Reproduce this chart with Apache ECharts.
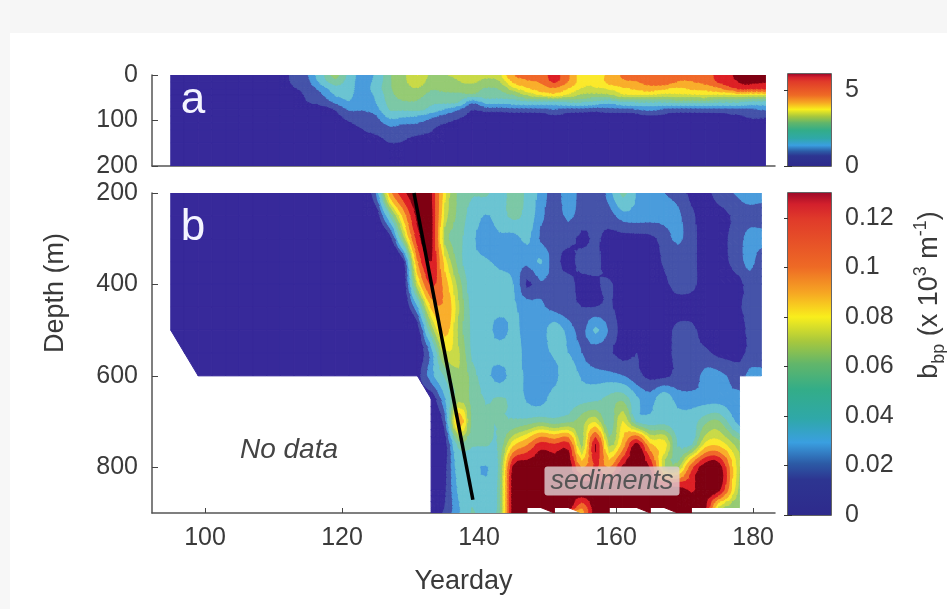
<!DOCTYPE html>
<html><head><meta charset="utf-8">
<style>html,body{margin:0;padding:0;background:#fff}#c{width:947px;height:609px;filter:blur(.55px)}</style>
<script src="https://cdn.jsdelivr.net/npm/echarts@6/dist/echarts.min.js"></script>
</head><body><div id="c"></div>
<script>
// --- axes / ticks
const xTicks=[100,120,140,160,180];
const yTicksA=[0,100,200];
const yTicksB=[200,400,600,800];
const days=[95,97,99,101,103,105,107,109,111,113,115,117,119,121,123,125,127,129,131,133,135,137,139,141,143,145,147,149,151,153,155,157,159,161,163,165,167,169,171,173,175,178,179.5,181.2];
const daysA=[95,97,99,101,103,105,107,109,111,113,115,117,119,121,123,125,127,129,131,133,135,137,139,141,143,145,147,149,151,153,155,157,159,161,163,165,167,169,171,173,175,178,179.5,181.8];
const depthsA=[0,15,30,45,60,75,90,105,120,150,200];
const depthsB=[200,250,300,350,400,450,500,550,600,650,700,750,800,850,888,900];
// --- panel a: scale 0-6, one profile per day (column)
const valuesA=[
[.2,.2,.2,.2,.2,.2,.2,.2,.2,.2,.2],[.2,.2,.2,.2,.2,.2,.2,.2,.2,.2,.2],[.2,.2,.2,.2,.2,.2,.2,.2,.2,.2,.2],
[.2,.2,.2,.2,.2,.2,.2,.2,.2,.2,.2],[.2,.2,.2,.2,.2,.2,.2,.2,.2,.2,.2],[.2,.2,.2,.2,.2,.2,.2,.2,.2,.2,.2],
[.2,.2,.2,.2,.2,.2,.2,.2,.2,.2,.2],[.2,.2,.2,.2,.2,.2,.2,.2,.2,.2,.2],[.3,.2,.2,.2,.2,.2,.2,.2,.2,.2,.2],
[.7,.7,.5,.2,.2,.2,.2,.2,.2,.2,.2],
[1.0,.9,.8,.7,.56,.3,.2,.2,.2,.2,.2],
[1.9,1.7,1.2,.95,.7,.4,.2,.2,.2,.2,.2],
[2.7,2.4,1.8,1.5,1.1,.6,.4,.2,.2,.2,.2],
[1.9,1.8,1.7,1.6,1.45,1.1,.8,.5,.3,.2,.2],
[1.2,1.2,1.2,1.2,1.15,1.05,.9,.75,.55,.3,.2],
[1.6,1.7,1.8,1.6,1.5,1.3,1.0,.85,.7,.3,.2],
[2.5,2.5,2.5,2.4,2.3,2.15,1.7,1.2,.9,.55,.2],
[2.9,2.9,2.8,2.7,2.5,2.2,1.6,1.1,.8,.5,.2],
[3.45,3.3,3.0,2.7,2.5,2.3,1.5,1.05,.75,.3,.2],
[2.9,2.8,2.6,2.4,2.2,1.9,1.2,.8,.6,.3,.2],
[3.0,2.8,2.7,2.4,2.2,1.5,.9,.6,.3,.2,.2],
[3.1,3.0,2.8,2.4,2.1,1.1,.7,.4,.2,.2,.2],
[3.2,3.1,2.8,2.4,1.1,.6,.4,.2,.2,.2,.2],
[3.1,2.9,2.5,2.3,1.7,.8,.3,.2,.2,.2,.2],
[3.3,3.0,2.6,2.3,1.7,.8,.3,.2,.2,.2,.2],
[4.5,4.0,3.3,2.5,1.8,.9,.3,.2,.2,.2,.2],
[4.7,4.4,3.8,3.0,1.9,.9,.3,.2,.2,.2,.2],
[4.8,4.6,4.2,3.4,1.9,.95,.35,.2,.2,.2,.2],
[5.3,5.2,4.4,3.6,1.9,1.05,.5,.2,.2,.2,.2],
[4.6,4.5,3.9,3.3,2.1,.9,.4,.2,.2,.2,.2],
[3.6,3.6,3.4,2.9,2.1,.9,.3,.2,.2,.2,.2],
[3.5,3.5,3.4,2.8,1.9,.8,.3,.2,.2,.2,.2],
[4.1,4.1,3.5,2.9,1.7,.9,.35,.2,.2,.2,.2],
[4.6,4.4,3.8,3.3,2.0,.95,.35,.2,.2,.2,.2],
[4.7,4.5,4.0,3.4,2.1,1.05,.4,.2,.2,.2,.2],
[4.9,4.8,4.2,3.35,2.1,1.2,.55,.2,.2,.2,.2],
[5.1,4.9,4.0,3.2,2.1,1.0,.45,.2,.2,.2,.2],
[4.6,4.5,3.8,3.3,2.2,.9,.35,.2,.2,.2,.2],
[4.6,4.5,4.0,3.3,2.2,.9,.35,.2,.2,.2,.2],
[4.8,4.7,4.1,3.4,2.2,.95,.35,.2,.2,.2,.2],
[5.3,5.2,4.4,3.3,2.1,.95,.4,.2,.2,.2,.2],
[5.8,5.7,5.2,3.4,2.1,1.0,.5,.2,.2,.2,.2],
[5.9,5.8,5.2,3.3,1.9,1.0,.7,.3,.2,.2,.2],
[5.9,5.7,5.2,3.3,1.9,1.1,.7,.3,.2,.2,.2]
];
// --- panel b: bbp x 1000, one row per depth, one value per day
const _=null;
const valuesB=[
[3,3,3,3,3,3,3,3,3,3, 3,3,3,3,5,22,90,118,130,122, 76,52,46,47,38,50,42,28,17,27, 18,16,26,48,30,26,22,19,9,9, 16,24,27,27],
[3,3,3,3,3,3,3,3,3,3, 3,3,3,3,3,4,45,88,125,125, 70,52,40,31,38,48,40,25,16,24, 17,15,17,27,27,26,25,24,14,8, 8,15,18,16],
[3,3,3,3,3,3,3,3,3,3, 3,3,3,3,3,3,6,60,115,125, 62,50,34,27,30,27,34,20,16,15, 10,13,9,8,8,9,16,24,15,8, 8,18,26,26],
[3,3,3,3,3,3,3,3,3,3, 3,3,3,3,3,3,3,7,95,122, 78,50,36,33,30,28,25,33,16,9, 15,14,8,7,7,7,13,15,14,8, 8,17,26,14],
[3,3,3,3,3,3,3,3,3,3, 3,3,3,3,3,3,3,3,70,112, 90,60,38,37,36,32,10,20,16,15, 9,11,13,8,7,7,10,15,14,8, 7,10,15,15],
[3,3,3,3,3,3,3,3,3,3, 3,3,3,3,3,3,3,3,30,85, 95,66,40,37,36,33,28,24,18,15, 12,12,13,8,7,7,8,8,8,8, 8,11,15,15],
[3,3,3,3,3,3,3,3,3,3, 3,3,3,3,3,3,3,3,5,55, 88,62,42,37,27,34,28,26,38,28, 18,34,20,8,7,8,8,14,14,8, 8,8,14,14],
[_,3,3,3,3,3,3,3,3,3, 3,3,3,3,3,3,3,3,4,25, 70,66,42,37,38,38,28,26,34,32, 22,15,13,9,12,8,9,14,14,14, 9,9,14,15],
[_,_,3,3,3,3,3,3,3,3, 3,3,3,3,3,3,3,3,8,28, 46,64,50,36,27,36,30,27,28,40, 30,27,25,22,15,9,9,15,15,25, 25,17,25,25],
[_,_,_,_,_,_,_,_,_,_, _,_,_,_,_,_,_,_,_,5, 30,60,52,44,46,42,30,27,38,40, 40,42,48,52,34,27,40,27,26,26, 26,24,_,_],
[_,_,_,_,_,_,_,_,_,_, _,_,_,_,_,_,_,_,_,3, 16,92,50,46,45,46,48,52,48,52, 60,72,46,74,42,38,40,38,38,52, 56,26,_,_],
[_,_,_,_,_,_,_,_,_,_, _,_,_,_,_,_,_,_,_,3, 6,48,46,46,46,80,95,115,110,115, 60,122,62,88,126,85,80,44,42,76, 80,60,_,_],
[_,_,_,_,_,_,_,_,_,_, _,_,_,_,_,_,_,_,_,3, 8,38,36,31,48,125,130,130,130,130, 95,112,95,125,130,120,65,60,105,130, 130,65,_,_],
[_,_,_,_,_,_,_,_,_,_, _,_,_,_,_,_,_,_,_,3, 10,34,44,36,50,130,130,130,130,130, 130,130,130,130,130,130,130,130,120,130, 125,60,_,_],
[_,_,_,_,_,_,_,_,_,_, _,_,_,_,_,_,_,_,_,3, 12,30,45,36,50,130,130,130,130,130, 100,130,130,130,130,130,130,130,130,125, 70,55,_,_],
[_,_,_,_,_,_,_,_,_,_, _,_,_,_,_,_,_,_,_,3, 14,30,46,38,52,130,130,_,130,_, 90,130,130,_,_,130,_,130,130,_, _,_,_,_]
];
// --- sinking line
const lineDays=[130.5,139.1];
const lineDepths=[200,871];
// --- contour bands
const bandEdges=[-999,12,22,32,45,55,65,74,84,97,110,122,999];
const bandColors=['#37299a','#4553a9','#4a9cdc','#6bc4d2','#7cc8a6','#96cb74','#c9da48','#fbe92c','#f9ae2c','#f0692a','#dd2026','#7f0012'];
// --- colourbar
const barStops=[[0,'#2e2a8c'],[.11,'#2d3591'],[.16,'#2c5ba6'],[.225,'#3a9fe0'],[.3,'#2fa8a8'],[.39,'#33ad88'],[.47,'#62b66a'],[.54,'#a8c83d'],[.615,'#f9ee1c'],[.69,'#f6a623'],[.77,'#ee6a25'],[.92,'#e03a2a'],[.965,'#d3202c'],[1,'#a00a28']];
const barTopA=6.05, barTopB=.13;
const ticksA=[0,5], ticksB=[0,.02,.04,.06,.08,.1,.12];

const aToB=130/barTopA;
function clip(poly,lo,hi){
  function cut(p,keep,edge){const o=[];for(let i=0;i<p.length;i++){const a=p[i],b=p[(i+1)%p.length],ka=keep(a[2]),kb=keep(b[2]);
    if(ka)o.push(a);
    if(ka!==kb){const t=(edge-a[2])/(b[2]-a[2]);o.push([a[0]+t*(b[0]-a[0]),a[1]+t*(b[1]-a[1]),edge]);}}return o;}
  let p=cut(poly,v=>v>=lo,lo); if(p.length<3)return p;
  return cut(p,v=>v<=hi,hi);
}
const cr=(p0,p1,p2,p3,t)=>.5*(2*p1+(p2-p0)*t+(2*p0-5*p1+4*p2-p3)*t*t+(3*p1-p0-3*p2+p3)*t*t*t);
const bandOf=v=>{for(let c=0;c<bandColors.length;c++)if(v<bandEdges[c+1])return c;return bandColors.length-1;};
// filled contours over a value grid, the way a contourf plot does it
function field(xs,ys,val,scale,K){
  const nx=xs.length,ny=ys.length;
  const grid=[];
  for(let i=0;i<nx;i++){grid.push([]);for(let j=0;j<ny;j++){
    let v=val(i,j);
    if(v==null){ // value under the no-data mask: take the closest measured node
      outer:for(let r=1;r<Math.max(nx,ny);r++){for(const [a,b] of [[i+r,j],[i-r,j],[i,j-r],[i,j+r]]){
        if(a>=0&&a<nx&&b>=0&&b<ny&&val(a,b)!=null){v=val(a,b);break outer;}}}
    }
    grid[i].push(v*scale);
  }}
  const G=(i,j)=>grid[Math.max(0,Math.min(nx-1,i))][Math.max(0,Math.min(ny-1,j))];
  function at(i,j,u,v){
    const c=[];for(let a=-1;a<=2;a++)c.push(cr(G(i+a,j-1),G(i+a,j),G(i+a,j+1),G(i+a,j+2),v));
    return cr(c[0],c[1],c[2],c[3],u);
  }
  const data=[];
  for(let i=0;i<nx-1;i++)for(let j=0;j<ny-1;j++)data.push([xs[i],ys[j],i,j]);
  return {data,renderItem(params,api){
    const i=api.value(2),j=api.value(3);
    const ok=(a,b)=>val(a,b)!=null;
    const upper=ok(i,j)&&ok(i+1,j)&&ok(i+1,j+1), lower=ok(i,j)&&ok(i+1,j+1)&&ok(i,j+1);
    const children=[];
    if(!upper&&!lower)return {type:'group',children};
    const N=(a,b)=>{const u=a/K,v=b/K;return [xs[i]+u*(xs[i+1]-xs[i]),ys[j]+v*(ys[j+1]-ys[j]),at(i,j,u,v)];};
    const emit=(t,c)=>children.push({type:'polygon',shape:{points:t.map(n=>api.coord([n[0],n[1]]))},
      style:{fill:bandColors[c],stroke:bandColors[c],lineWidth:1}});
    // single-band cell: one shape is enough
    let first=bandOf(N(0,0)[2]),same=true;
    for(let a=0;a<=K&&same;a++)for(let b=0;b<=K;b++)if(bandOf(N(a,b)[2])!==first){same=false;break;}
    if(same){
      const c0=N(0,0),c1=N(K,0),c2=N(K,K),c3=N(0,K);
      if(upper&&lower)emit([c0,c1,c2,c3],first);
      else if(upper)emit([c0,c1,c2],first);
      else emit([c0,c2,c3],first);
      return {type:'group',children};
    }
    for(let a=0;a<K;a++)for(let b=0;b<K;b++){
      const q0=N(a,b),q1=N(a+1,b),q2=N(a+1,b+1),q3=N(a,b+1);
      const list=[];
      if(a>b){if(upper)list.push([q0,q1,q2],[q0,q2,q3]);}
      else if(a<b){if(lower)list.push([q0,q1,q2],[q0,q2,q3]);}
      else{if(upper)list.push([q0,q1,q2]);if(lower)list.push([q0,q2,q3]);}
      for(const t of list)for(let c=0;c<bandColors.length;c++){
        const p=clip(t,bandEdges[c],bandEdges[c+1]);
        if(p.length>=3)emit(p,c);
      }
    }
    return {type:'group',children};
  }};
}
const fa=field(daysA,depthsA,(a,b)=>valuesA[a][b],aToB,3);
const fb=field(days,depthsB,(a,b)=>valuesB[b][a],1,3);

const ink='#3a3a3a', F='"Liberation Sans",Arial,sans-serif';
const xMin=92.26,xMax=183.2;
function xAxis(grid,labels){return {type:'value',gridIndex:grid,min:xMin,max:xMax,
  axisLine:{show:true,onZero:false,lineStyle:{color:'#555',width:1.5}},
  axisTick:{show:true,inside:true,length:5,customValues:xTicks,lineStyle:{color:'#444',width:1}},
  splitLine:{show:false},
  axisLabel:{show:labels,customValues:xTicks,color:ink,fontSize:25,fontFamily:F,margin:13},
  ...(labels?{name:'Yearday',nameLocation:'middle',nameGap:55,nameTextStyle:{color:ink,fontSize:27,fontFamily:F}}:{})};}
function yAxis(grid,min,max,ticks){return {type:'value',gridIndex:grid,min,max,inverse:true,
  axisLine:{show:true,onZero:false,lineStyle:{color:'#555',width:1.5}},
  axisTick:{show:true,inside:true,length:6,customValues:ticks,lineStyle:{color:'#444',width:1}},
  splitLine:{show:false},
  axisLabel:{customValues:ticks,color:ink,fontSize:25,fontFamily:F,margin:14}};}
function barX(g){return {type:'value',gridIndex:g,min:0,max:1,show:false};}
function barY(g,top,ticks,side){const lab=side==='right';return {type:'value',gridIndex:g,min:0,max:top,position:side,
  axisLine:{show:false},splitLine:{show:false},
  axisTick:{show:true,inside:true,length:4,customValues:ticks,lineStyle:{color:'#333',width:1}},
  axisLabel:{show:lab,customValues:ticks,color:ink,fontSize:25,fontFamily:F,margin:14,formatter:v=>String(+(+v).toFixed(2))}};}
function barSeries(xi,yi,top){return {type:'custom',xAxisIndex:xi,yAxisIndex:yi,silent:true,data:[[0,top]],encode:{x:0,y:1},clip:false,
  renderItem(p,api){const a=api.coord([0,0]),b=api.coord([1,top]);
    return {type:'rect',shape:{x:a[0],y:b[1],width:b[0]-a[0],height:a[1]-b[1]},
      style:{fill:new echarts.graphic.LinearGradient(0,1,0,0,barStops.map(s=>({offset:s[0],color:s[1]})))}};}};}

const chart=echarts.init(document.getElementById('c'),null,{renderer:'canvas'});
chart.setOption({
  animation:false,backgroundColor:'#fff',
  grid:[
    {left:152,top:75,width:623,height:91},
    {left:152,top:193,width:623,height:320},
    {left:788,top:74,width:43,height:92,show:true,borderColor:'#333',borderWidth:1.5,backgroundColor:'transparent'},
    {left:788,top:193,width:43,height:322,show:true,borderColor:'#333',borderWidth:1.5,backgroundColor:'transparent'}
  ],
  xAxis:[xAxis(0,false),xAxis(1,true),barX(2),barX(3)],
  yAxis:[
    yAxis(0,0,200,yTicksA),
    yAxis(1,200,900,yTicksB),
    barY(2,barTopA,ticksA,'right'),barY(2,barTopA,ticksA,'left'),
    barY(3,barTopB,ticksB,'right'),barY(3,barTopB,ticksB,'left')
  ],
  series:[
    {type:'custom',xAxisIndex:0,yAxisIndex:0,silent:true,clip:true,encode:{x:0,y:1},data:fa.data,renderItem:fa.renderItem,z:1},
    {type:'custom',xAxisIndex:1,yAxisIndex:1,silent:true,clip:true,encode:{x:0,y:1},data:fb.data,renderItem:fb.renderItem,z:1},
    {type:'line',xAxisIndex:1,yAxisIndex:1,silent:true,symbol:'none',z:5,lineStyle:{color:'#000',width:3.5,cap:'butt'},
      data:lineDays.map((d,i)=>[d,lineDepths[i]])},
    barSeries(2,2,barTopA),barSeries(3,4,barTopB)
  ],
  graphic:[
    {type:'rect',z:-1,shape:{x:0,y:0,width:947,height:33},style:{fill:'#f6f6f6'}},
    {type:'rect',z:-1,shape:{x:0,y:0,width:10,height:609},style:{fill:'#f7f7f7'}},
    {type:'text',z:20,x:193,y:101,style:{text:'a',fill:'#f4f4ff',font:'44px '+F,align:'center',verticalAlign:'middle'}},
    {type:'text',z:20,x:193,y:228,style:{text:'b',fill:'#f4f4ff',font:'44px '+F,align:'center',verticalAlign:'middle'}},
    {type:'text',z:20,x:289,y:450,style:{text:'No data',fill:'#444',font:'italic 28px '+F,align:'center',verticalAlign:'middle'}},
    {type:'text',z:20,x:612,y:481,style:{text:'sediments',fill:'#555',font:'italic 27px '+F,align:'center',verticalAlign:'middle',
      backgroundColor:'rgba(222,205,208,.82)',padding:[1,6,1,6],borderRadius:3}},
    {type:'text',z:20,x:56,y:293,rotation:Math.PI/2,style:{text:'Depth (m)',fill:ink,font:'27px '+F,align:'center',verticalAlign:'middle'}},
    {type:'text',z:20,x:930,y:295,rotation:Math.PI/2,originX:0,originY:0,
      style:{align:'center',verticalAlign:'middle',
        rich:{t:{fontSize:27,fontFamily:F,fill:ink,lineHeight:36},
              sub:{fontSize:18,fontFamily:F,fill:ink,verticalAlign:'bottom',lineHeight:36},
              sup:{fontSize:18,fontFamily:F,fill:ink,verticalAlign:'top',lineHeight:36}},
        text:'{t|b}{sub|bp}{t| (x 10}{sup|3}{t| m}{sup|-1}{t|)}'}}
  ]
});
</script></body></html>
